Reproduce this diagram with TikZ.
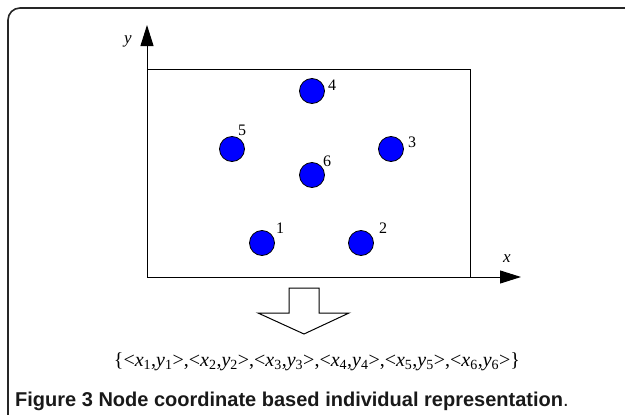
\documentclass[tikz,border=0pt]{standalone}
\usepackage{fontspec}
\setmainfont{Liberation Serif}
\setsansfont{Liberation Sans}
\usetikzlibrary{arrows.meta}
\begin{document}
\begin{tikzpicture}[x=1pt,y=-1pt,
  dot/.style={circle,draw=black,line width=0.8pt,fill=blue,minimum size=25pt,inner sep=0pt},
  num/.style={font=\fontsize{16}{16}\selectfont,inner sep=0pt},
  axis/.style={line width=1pt,-{Triangle[length=21pt,width=13pt]}},
  box/.style={line width=1pt}]
\useasboundingbox (0,0) rectangle (625,415);
% outer frame (open on right and bottom)
\draw[line width=1.6pt,color=black!85,rounded corners=12pt] (8,415) -- (8,8) -- (625,8);
% rectangle
\coordinate (O) at (147,277);
\coordinate (TL) at (147,69);
\coordinate (TR) at (470,69);
\coordinate (BR) at (470,277);
\draw[box] (TL) -- (TR) -- (BR);
\coordinate (YT) at (147,25);
\coordinate (XT) at (521,277);
\draw[axis] (O) -- (YT);
\draw[axis] (O) -- (XT);
\node[font=\fontsize{17}{17}\selectfont\itshape,inner sep=0pt] (ylab) at (128,41) {y};
\node[font=\fontsize{17}{17}\selectfont\itshape,inner sep=0pt] (xlab) at (507,259) {x};
% dots
\node[dot] (n1) at (262,243) {};
\node[dot] (n2) at (361,243) {};
\node[dot] (n3) at (391,149) {};
\node[dot] (n4) at (312,91) {};
\node[dot] (n5) at (232,149) {};
\node[dot] (n6) at (312,175) {};
\node[num] (l1) at (280,228) {1};
\node[num] (l2) at (383,228) {2};
\node[num] (l3) at (412,142) {3};
\node[num] (l4) at (332,85) {4};
\node[num] (l5) at (242,130) {5};
\node[num] (l6) at (327,161) {6};
% hollow arrow
\draw[line width=1pt,line join=miter] (289,288) -- (319,288) -- (319,313) -- (349,313) -- (304,334) -- (258,313) -- (289,313) -- cycle;
% formula
\node[font=\fontsize{20}{20}\selectfont,inner sep=0pt] (formula) at (317,362)
 {\{<\textit{x}\textsubscript{1},\textit{y}\textsubscript{1}>,<\textit{x}\textsubscript{2},\textit{y}\textsubscript{2}>,<\textit{x}\textsubscript{3},\textit{y}\textsubscript{3}>,<\textit{x}\textsubscript{4},\textit{y}\textsubscript{4}>,<\textit{x}\textsubscript{5},\textit{y}\textsubscript{5}>,<\textit{x}\textsubscript{6},\textit{y}\textsubscript{6}>\}};
% caption
\node[font=\fontsize{20}{20}\selectfont\sffamily,anchor=base west,inner sep=0pt,color=black!90] (cap) at (15,406)
 {\textbf{Figure 3 Node coordinate based individual representation}.};
\end{tikzpicture}
\end{document}
